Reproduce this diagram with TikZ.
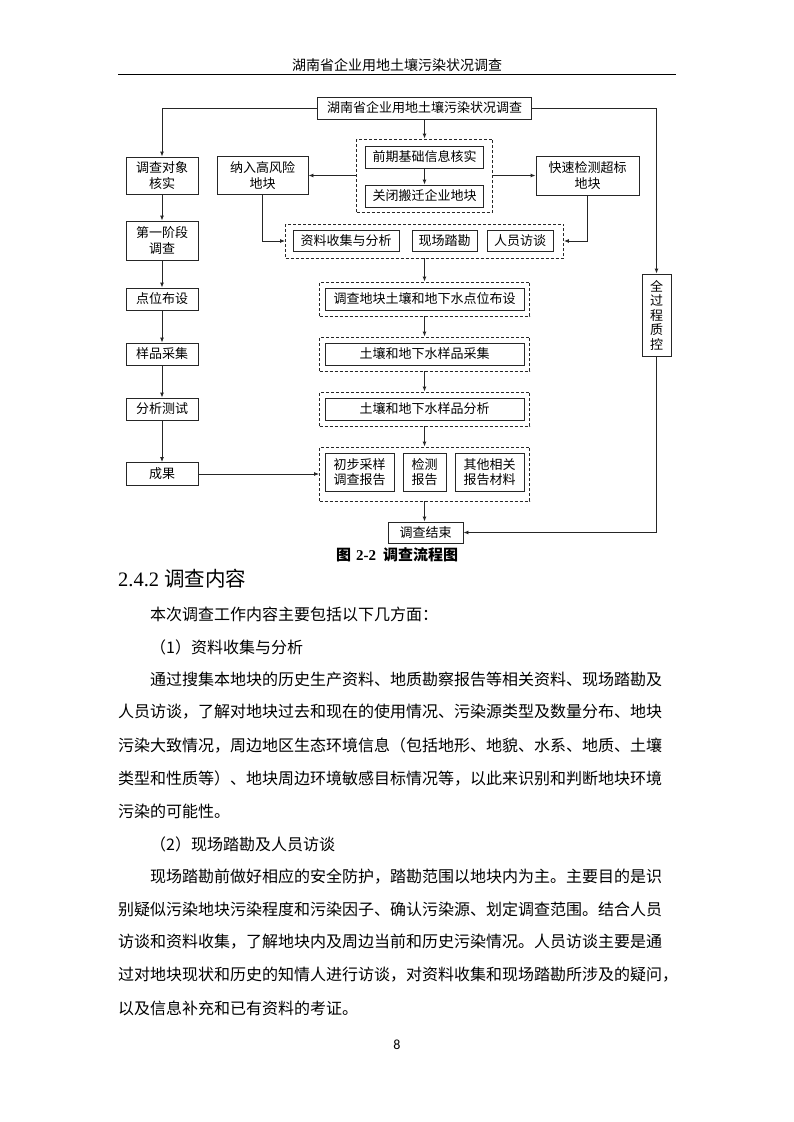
\documentclass[tikz,border=0pt]{standalone}
\usepackage{fontspec}
\setmainfont{Liberation Serif}
\newfontfamily\cjk{Noto Sans CJK SC}
\newfontfamily\pgnum{Carlito}
\usetikzlibrary{arrows.meta}
\XeTeXlinebreaklocale "zh"
\XeTeXlinebreakskip=0pt plus 2pt
\newcommand\fullline[1]{\makebox[558pt][s]{#1}}
\begin{document}
\begin{tikzpicture}[x=1pt,y=-1pt,
  box/.style={draw=black!85, line width=0.9pt, inner sep=0pt, align=center, font=\cjk\fontsize{13}{15.5}\selectfont},
  grp/.style={draw=black!85, line width=0.9pt, dash pattern=on 3pt off 2pt, inner sep=0pt},
  arr/.style={draw=black!85, line width=0.9pt, -{Latex[length=5pt,width=4pt]}},
  body/.style={anchor=west, inner sep=0pt, font=\cjk\fontsize{16}{20}\selectfont},
]
\useasboundingbox[fill=white] (0,0) rectangle (794,1122);

% page header
\node[inner sep=0pt, font=\cjk\fontsize{14}{16}\selectfont] (hdr) at (397,65) {湖南省企业用地土壤污染状况调查};
\coordinate (rl) at (118,74);
\coordinate (rr) at (676,74);
\draw[line width=1pt] (rl) -- (rr);

% central column
\node[box, minimum width=214pt, minimum height=22pt] (T) at (424.5,108) {湖南省企业用地土壤污染状况调查};
\node[grp, minimum width=136pt, minimum height=73pt] (G1) at (424.5,175.5) {};
\node[box, minimum width=118pt, minimum height=22pt] (B1) at (424.5,157) {前期基础信息核实};
\node[box, minimum width=118pt, minimum height=22pt] (B2) at (424.5,196) {关闭搬迁企业地块};
\node[box, minimum width=91pt, minimum height=38pt] (N) at (262.5,175.5) {纳入高风险\\地块};
\node[box, minimum width=103pt, minimum height=39pt] (K) at (587.5,175.5) {快速检测超标\\地块};

\node[grp, minimum width=278pt, minimum height=34pt] (G2) at (424.5,241) {};
\node[box, minimum width=106pt, minimum height=21pt] (C1) at (346,241) {资料收集与分析};
\node[box, minimum width=65pt, minimum height=21pt] (C2) at (444.5,241) {现场踏勘};
\node[box, minimum width=66pt, minimum height=21pt] (C3) at (520,241) {人员访谈};

\node[grp, minimum width=210pt, minimum height=34pt] (G3) at (424.5,299) {};
\node[box, minimum width=199pt, minimum height=22pt] (D1) at (424.5,299) {调查地块土壤和地下水点位布设};
\node[grp, minimum width=210pt, minimum height=34pt] (G4) at (424.5,354) {};
\node[box, minimum width=199pt, minimum height=22pt] (D2) at (424.5,354) {土壤和地下水样品采集};
\node[grp, minimum width=210pt, minimum height=34pt] (G5) at (424.5,409) {};
\node[box, minimum width=199pt, minimum height=22pt] (D3) at (424.5,409) {土壤和地下水样品分析};

\node[grp, minimum width=210pt, minimum height=54pt] (G6) at (424.5,474) {};
\node[box, minimum width=69pt, minimum height=38pt] (E1) at (359.5,472) {初步采样\\调查报告};
\node[box, minimum width=43pt, minimum height=38pt] (E2) at (424.5,472) {检测\\报告};
\node[box, minimum width=69pt, minimum height=38pt] (E3) at (489.5,472) {其他相关\\报告材料};

\node[box, minimum width=75pt, minimum height=21pt] (End) at (425.5,532.5) {调查结束};

% left column
\node[box, minimum width=72pt, minimum height=37pt] (A1) at (162,175.5) {调查对象\\核实};
\node[box, minimum width=72pt, minimum height=39pt] (A2) at (162,240.5) {第一阶段\\调查};
\node[box, minimum width=72pt, minimum height=22pt] (A3) at (162,299) {点位布设};
\node[box, minimum width=72pt, minimum height=22pt] (A4) at (162,354) {样品采集};
\node[box, minimum width=72pt, minimum height=22pt] (A5) at (162,409) {分析测试};
\node[box, minimum width=72pt, minimum height=23pt] (A6) at (162,474) {成果};

% right column
\node[box, minimum width=29pt, minimum height=82pt, font=\cjk\fontsize{13}{14.5}\selectfont] (Q) at (656.5,315) {全\\过\\程\\质\\控};

% connectors
\draw[arr] (T.west) -| (A1.north);
\draw[arr] (A1) -- (A2);
\draw[arr] (A2) -- (A3);
\draw[arr] (A3) -- (A4);
\draw[arr] (A4) -- (A5);
\draw[arr] (A5) -- (A6);
\draw[arr] (T.south) -- (G1.north);
\draw[arr] (B1) -- (B2);
\draw[arr] (G1.west) -- (G1.west -| N.east);
\draw[arr] (G1.east) -- (G1.east -| K.west);
\draw[arr] (N.south) |- (G2.west);
\draw[arr] (K.south) |- (G2.east);
\draw[arr] (G2.south) -- (G3.north);
\draw[arr] (G3.south) -- (G4.north);
\draw[arr] (G4.south) -- (G5.north);
\draw[arr] (G5.south) -- (G6.north);
\draw[arr] (G6.south) -- (G6.south |- End.north);
\draw[arr] (A6.east) -- (A6.east -| G6.west);
\draw[arr] (T.east) -| (Q.north);
\draw[arr] (Q.south) |- (End.east);

% caption
\node[inner sep=0pt, font=\fontsize{15}{17}\selectfont\bfseries] (cap) at (397,555) {{\cjk 图}\hspace{5pt}2-2\hspace{7pt}{\cjk 调查流程图}};

% section heading
\node[anchor=west, inner sep=0pt, font=\fontsize{20.5}{23}\selectfont] (h242) at (118,579) {2.4.2 {\cjk 调查内容}};

% body text
\node[body] (l1) at (150,614) {本次调查工作内容主要包括以下几方面：};
\node[body] (l2) at (150,647) {（1）资料收集与分析};
\node[body] (l3) at (118,679.5) {\fullline{\hspace*{32pt}通过搜集本地块的历史生产资料、地质勘察报告等相关资料、现场踏勘及}};
\node[body] (l4) at (118,712) {\fullline{人员访谈，了解对地块过去和现在的使用情况、污染源类型及数量分布、地块}};
\node[body] (l5) at (118,745) {\fullline{污染大致情况，周边地区生态环境信息（包括地形、地貌、水系、地质、土壤}};
\node[body] (l6) at (118,778) {\fullline{类型和性质等）、地块周边环境敏感目标情况等，以此来识别和判断地块环境}};
\node[body] (l7) at (118,811) {污染的可能性。};
\node[body] (l8) at (150,844) {（2）现场踏勘及人员访谈};
\node[body] (l9) at (118,877) {\fullline{\hspace*{32pt}现场踏勘前做好相应的安全防护，踏勘范围以地块内为主。主要目的是识}};
\node[body] (l10) at (118,909.5) {\fullline{别疑似污染地块污染程度和污染因子、确认污染源、划定调查范围。结合人员}};
\node[body] (l11) at (118,942) {\fullline{访谈和资料收集，了解地块内及周边当前和历史污染情况。人员访谈主要是通}};
\node[body] (l12) at (118,975) {过对地块现状和历史的知情人进行访谈，对资料收集和现场踏勘所涉及的疑问，};
\node[body] (l13) at (118,1008) {以及信息补充和已有资料的考证。};

% page number
\node[inner sep=0pt, font=\pgnum\fontsize{14}{16}\selectfont] (pg) at (397,1045) {8};
\end{tikzpicture}
\end{document}
